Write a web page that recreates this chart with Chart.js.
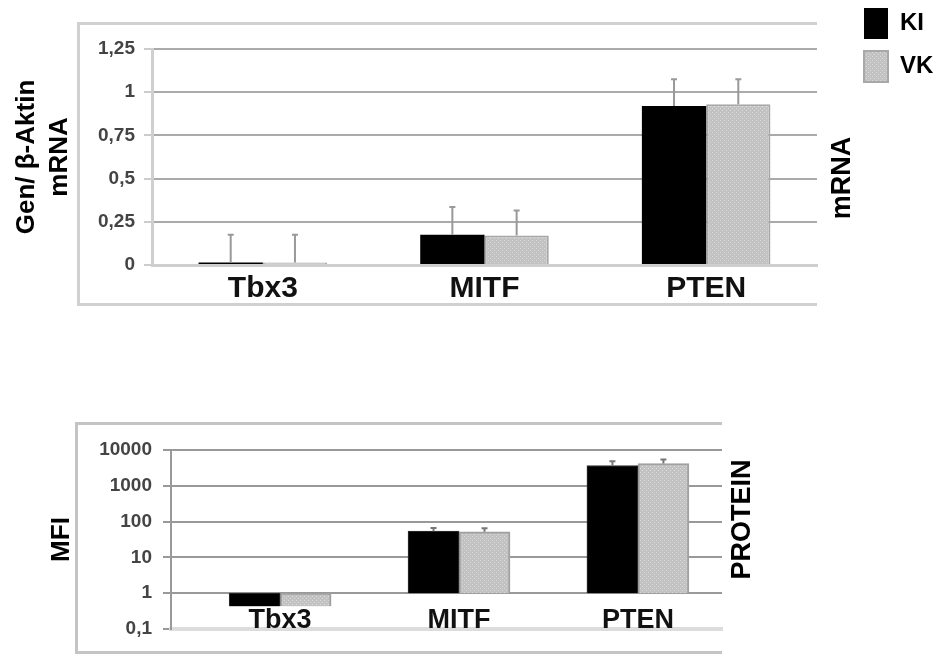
<!DOCTYPE html>
<html>
<head>
<meta charset="utf-8">
<script src="https://cdn.jsdelivr.net/npm/chart.js@4"></script>
<style>
  body { margin: 0; background: #fff; width: 940px; height: 655px; position: relative; overflow: hidden; }
  .frame { position: absolute; border: 3px solid #d0d0d0; border-right: none; box-sizing: border-box; }
  #frameTop { left: 77px; top: 22px; width: 740px; height: 284px; }
  #frameBottom { left: 75px; top: 422px; width: 647px; height: 232px; border-color: #c4c4c4; }
  canvas { position: absolute; left: 0; }
  #mrnaChart { top: -4px; }
  #proteinChart { top: 400px; }
</style>
</head>
<body>
<div class="frame" id="frameTop"></div>
<div class="frame" id="frameBottom"></div>
<canvas id="mrnaChart" width="940" height="320" style="width:940px;height:320px"></canvas>
<canvas id="proteinChart" width="940" height="255" style="width:940px;height:255px"></canvas>
<script>
const genes = ['Tbx3', 'MITF', 'PTEN'];

// mRNA (Gen / beta-Aktin)
const mrnaKI = [0.015, 0.175, 0.92];
const mrnaVK = [0.015, 0.17, 0.93];
const mrnaErrKI = [0.16, 0.16, 0.155];
const mrnaErrVK = [0.16, 0.145, 0.145];
const mrnaTicks = [0, 0.25, 0.5, 0.75, 1, 1.25];

// protein (MFI, log scale)
const mfiKI = [0.43, 54, 3700];
const mfiVK = [0.43, 52, 4200];
const mfiErrKI = [0, 12, 1150];
const mfiErrVK = [0, 13, 1200];
const mfiTicks = [0.1, 1, 10, 100, 1000, 10000];

Chart.defaults.font.family = "'Liberation Sans', Arial, sans-serif";

const fmt = v => String(v).replace('.', ',');

// light grey dotted fill for VK
function dotted() {
  const c = document.createElement('canvas');
  c.width = 4; c.height = 4;
  const g = c.getContext('2d');
  g.fillStyle = '#c2c2c2'; g.fillRect(0, 0, 4, 4);
  g.fillStyle = '#dadada'; g.fillRect(0, 0, 1, 1); g.fillRect(2, 2, 1, 1);
  return g.createPattern(c, 'repeat');
}
const vkFill = dotted();

const errorBars = {
  id: 'errorBars',
  afterDatasetsDraw(chart, args, opts) {
    const ctx = chart.ctx;
    const y = chart.scales.y;
    ctx.save();
    ctx.strokeStyle = opts.color || '#999';
    ctx.lineWidth = 2;
    chart.data.datasets.forEach((ds, i) => {
      chart.getDatasetMeta(i).data.forEach((bar, j) => {
        const e = ds.errors[j];
        if (!e) return;
        const top = y.getPixelForValue(ds.values[j] + e);
        ctx.beginPath();
        ctx.moveTo(bar.x, bar.y);
        ctx.lineTo(bar.x, top);
        ctx.moveTo(bar.x - 3, top);
        ctx.lineTo(bar.x + 3, top);
        ctx.stroke();
      });
    });
    ctx.restore();
  }
};

// rotated label on the right of the plot
const sideTitle = {
  id: 'sideTitle',
  afterDraw(chart, args, opts) {
    const {ctx, chartArea} = chart;
    ctx.save();
    ctx.translate(chartArea.right + opts.dx, (chartArea.top + chartArea.bottom) / 2 + opts.dy);
    ctx.rotate(-Math.PI / 2);
    ctx.font = "bold 27px 'Liberation Sans', Arial, sans-serif";
    ctx.fillStyle = '#000';
    ctx.textAlign = 'center';
    ctx.textBaseline = 'middle';
    ctx.fillText(opts.text, 0, 0);
    ctx.restore();
  }
};

window.addEventListener('load', function () {
  new Chart(document.getElementById('mrnaChart'), {
    type: 'bar',
    data: {
      labels: genes,
      datasets: [
        { label: 'KI', data: mrnaKI, values: mrnaKI, errors: mrnaErrKI,
          backgroundColor: '#000', borderWidth: 0 },
        { label: 'VK', data: mrnaVK, values: mrnaVK, errors: mrnaErrVK,
          backgroundColor: vkFill, borderColor: '#a8a8a8', borderWidth: 2 }
      ]
    },
    options: {
      responsive: false,
      animation: false,
      categoryPercentage: 0.58,
      barPercentage: 1,
      scales: {
        x: {
          grid: { display: false },
          border: { color: '#cfcfcf', width: 3 },
          ticks: { padding: -2, color: '#111', font: { size: 30, weight: 'bold' } },
          afterFit: s => { s.height = 51; }
        },
        y: {
          min: 0, max: 1.25,
          afterBuildTicks: s => { s.ticks = mrnaTicks.map(v => ({ value: v })); },
          ticks: { padding: 9, color: '#444', font: { size: 19, weight: 'bold' }, callback: fmt },
          grid: { color: '#aaa', lineWidth: 2, tickLength: 8, tickColor: '#ccc' },
          border: { color: '#cfcfcf', width: 3 },
          title: {
            display: true, text: ['Gen/ β-Aktin', 'mRNA'], color: '#000',
            font: { size: 26, weight: 'bold', lineHeight: 1.27 }, padding: { top: 10 }
          },
          afterFit: s => { s.width = 152; }
        },
        y2: {
          position: 'right',
          grid: { display: false },
          border: { display: false },
          ticks: { display: false },
          afterFit: s => { s.width = 35; }
        }
      },
      plugins: {
        title: { display: true, text: '', font: { size: 10, lineHeight: 1 }, padding: { top: 0, bottom: 43 } },
        legend: {
          position: 'right', align: 'start', maxWidth: 88,
          labels: { boxWidth: 24, boxHeight: 31, padding: 12, color: '#000', font: { size: 24, weight: 'bold' } }
        },
        tooltip: { enabled: false },
        errorBars: { color: '#999' },
        sideTitle: { text: 'mRNA', dx: 26, dy: 21 }
      }
    },
    plugins: [errorBars, sideTitle]
  });

  new Chart(document.getElementById('proteinChart'), {
    type: 'bar',
    data: {
      datasets: [
        { label: 'KI', data: genes.map((g, i) => ({ x: i, y: [1, mfiKI[i]] })),
          values: mfiKI, errors: mfiErrKI,
          backgroundColor: '#000', borderColor: '#333', borderWidth: 1 },
        { label: 'VK', data: genes.map((g, i) => ({ x: i, y: [1, mfiVK[i]] })),
          values: mfiVK, errors: mfiErrVK,
          backgroundColor: vkFill, borderColor: '#a0a0a0', borderWidth: 2 }
      ]
    },
    options: {
      responsive: false,
      animation: false,
      barThickness: 51,
      layout: { padding: { top: 50, right: 218, left: 0, bottom: 0 } },
      scales: {
        x: {
          type: 'linear', min: -0.61, max: 2.47, offset: false,
          afterBuildTicks: s => { s.ticks = genes.map((g, i) => ({ value: i })); },
          grid: { display: false },
          border: { color: '#dcdcdc', width: 4 },
          ticks: { autoSkip: false, mirror: true, padding: -8, color: '#111', font: { size: 27, weight: 'bold' },
                   callback: v => genes[v] },
          afterFit: s => { s.height = 26; }
        },
        y: {
          type: 'logarithmic', min: 0.1, max: 10000,
          afterBuildTicks: s => { s.ticks = mfiTicks.map(v => ({ value: v })); },
          ticks: { padding: 11, color: '#444', font: { size: 19, weight: 'bold' }, callback: fmt },
          grid: {
            color: c => (c.tick && c.tick.value === 0.1 ? '#dcdcdc' : '#999'),
            lineWidth: 2, tickLength: 8, tickColor: '#999'
          },
          border: { color: '#999', width: 2 },
          title: {
            display: true, text: 'MFI', color: '#000',
            font: { size: 26, weight: 'bold' }, padding: { top: 46 }
          },
          afterFit: s => { s.width = 171; }
        }
      },
      plugins: {
        legend: { display: false },
        tooltip: { enabled: false },
        errorBars: { color: '#777' },
        sideTitle: { text: 'PROTEIN', dx: 21, dy: -20 }
      }
    },
    plugins: [errorBars, sideTitle]
  });
});
</script>
</body>
</html>
